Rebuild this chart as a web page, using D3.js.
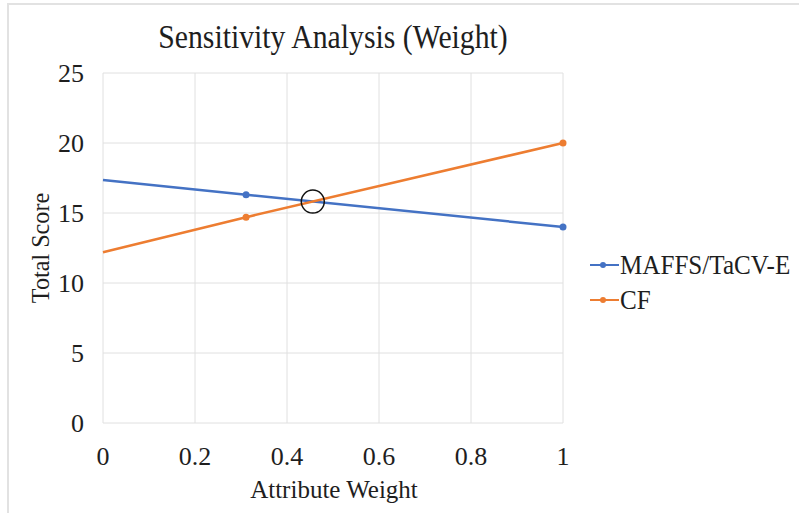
<!DOCTYPE html>
<html>
<head>
<meta charset="utf-8">
<script src="https://d3js.org/d3.v7.min.js"></script>
<style>
  body { margin: 0; background: #fff; }
  text { font-family: "Liberation Serif", "Times New Roman", serif; fill: #1e1e1e; }
</style>
</head>
<body>
<script>
// data
var weights = [0, 0.311, 1];
var maffs = [17.35, 16.3, 14.0];
var cf = [12.2, 14.7, 20.0];
var seriesNames = ["MAFFS/TaCV-E", "CF"];
var colors = ["#4472c4", "#ed7d31"];
var xTicks = [0, 0.2, 0.4, 0.6, 0.8, 1];
var yTicks = [0, 5, 10, 15, 20, 25];

var W = 799, H = 513;
var svg = d3.select("body").append("svg").attr("width", W).attr("height", H);

// frame
svg.append("rect").attr("x", 8).attr("y", 4).attr("width", W + 10).attr("height", H + 10)
    .attr("fill", "none").attr("stroke", "#e2e2e2").attr("stroke-width", 2);

var x = d3.scaleLinear().domain([0, 1]).range([103, 563]);
var y = d3.scaleLinear().domain([0, 25]).range([423, 73]);

// gridlines
svg.selectAll("line.hg").data(yTicks).enter().append("line")
    .attr("x1", x(0)).attr("x2", x(1))
    .attr("y1", function(d) { return y(d); }).attr("y2", function(d) { return y(d); })
    .attr("stroke", "#e0e0e0").attr("stroke-width", 1);
svg.selectAll("line.vg").data(xTicks).enter().append("line")
    .attr("y1", y(0)).attr("y2", y(25))
    .attr("x1", function(d) { return x(d); }).attr("x2", function(d) { return x(d); })
    .attr("stroke", "#e0e0e0").attr("stroke-width", 1);

// tick labels
svg.selectAll("text.yt").data(yTicks).enter().append("text")
    .attr("x", 84).attr("y", function(d) { return y(d) + 9; })
    .attr("text-anchor", "end").style("font-size", "26px")
    .text(function(d) { return d; });
svg.selectAll("text.xt").data(xTicks).enter().append("text")
    .attr("x", function(d) { return x(d); }).attr("y", 465)
    .attr("text-anchor", "middle").style("font-size", "26px")
    .text(function(d) { return d; });

// titles (a bit condensed, like the original)
svg.append("text").attr("transform", "translate(333,48) scale(0.875,1)").attr("text-anchor", "middle")
    .style("font-size", "34px").text("Sensitivity Analysis (Weight)");
svg.append("text").attr("x", 334).attr("y", 498).attr("text-anchor", "middle")
    .style("font-size", "25px").text("Attribute Weight");
svg.append("text").attr("transform", "translate(49,248) rotate(-90) scale(0.93,1)").attr("text-anchor", "middle")
    .style("font-size", "26px").text("Total Score");

// series
var series = [maffs, cf];
var line = d3.line().x(function(d, i) { return x(weights[i]); }).y(function(d) { return y(d); });
series.forEach(function(vals, k) {
    svg.append("path").datum(vals).attr("d", line)
        .attr("fill", "none").attr("stroke", colors[k]).attr("stroke-width", 2.5);
    svg.selectAll("circle.m" + k).data(vals.slice(1)).enter().append("circle")
        .attr("cx", function(d, i) { return x(weights[i + 1]); })
        .attr("cy", function(d) { return y(d); })
        .attr("r", 3.5).attr("fill", colors[k]);
});

// intersection circle
var s1 = (maffs[2] - maffs[1]) / (weights[2] - weights[1]);
var s2 = (cf[2] - cf[1]) / (weights[2] - weights[1]);
var xi = weights[1] + (maffs[1] - cf[1]) / (s2 - s1);
var yi = maffs[1] + s1 * (xi - weights[1]);
svg.append("circle").attr("cx", x(xi)).attr("cy", y(yi)).attr("r", 11.5)
    .attr("fill", "none").attr("stroke", "#111").attr("stroke-width", 1.5);

// legend
seriesNames.forEach(function(name, k) {
    var ly = 265 + k * 35;
    svg.append("line").attr("x1", 590).attr("x2", 619).attr("y1", ly).attr("y2", ly)
        .attr("stroke", colors[k]).attr("stroke-width", 2);
    svg.append("circle").attr("cx", 603).attr("cy", ly).attr("r", 3).attr("fill", colors[k]);
    svg.append("text").attr("transform", "translate(620," + (ly + 9) + ") scale(0.93,1)")
        .style("font-size", "27px").text(name);
});
</script>
</body>
</html>
